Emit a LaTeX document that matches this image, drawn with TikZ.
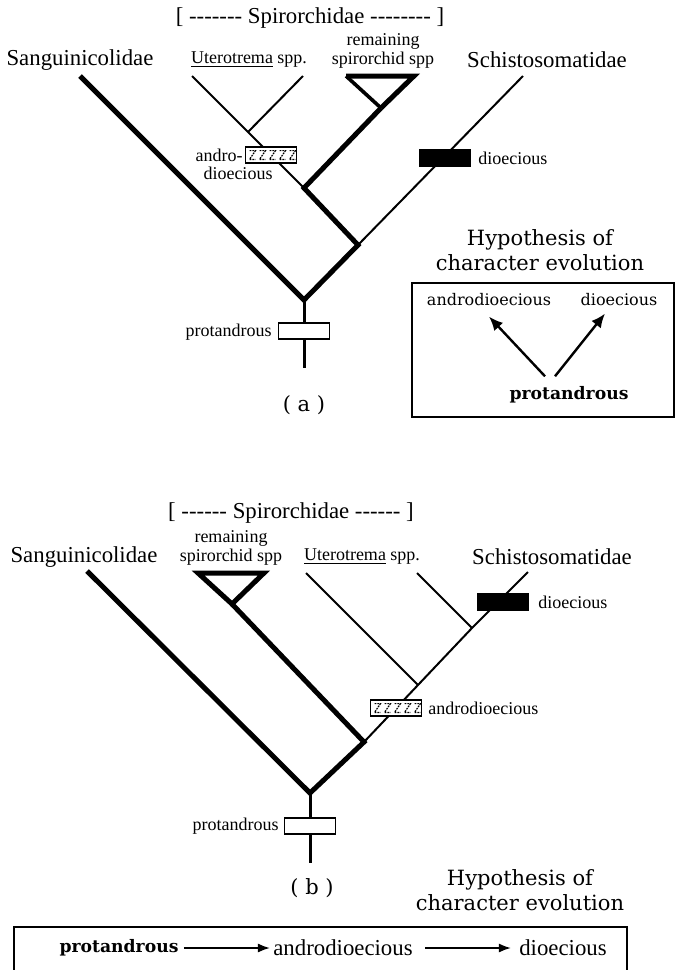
\documentclass[tikz,border=0pt]{standalone}
\usepackage{fontspec}
\setmainfont{Liberation Serif}
\newfontfamily\schfont{DejaVu Serif}
\usetikzlibrary{arrows.meta, calc}

% a run of plain hyphens (no en-dash ligature)
\newcommand{\dashrun}[1]{\foreach \d in {1,...,#1}{-\kern0pt}}

\tikzset{
  big/.style={font=\fontsize{11.4}{13}\selectfont, inner sep=0pt},
  small/.style={font=\fontsize{9}{9.5}\selectfont, inner sep=0pt},
  sch/.style={font=\schfont\fontsize{10.5}{12.5}\selectfont, inner sep=0pt, align=center},
  schsmall/.style={font=\schfont\fontsize{8}{10}\selectfont, inner sep=0pt},
  schbold/.style={font=\schfont\bfseries\fontsize{8.6}{10}\selectfont, inner sep=0pt},
  thickbr/.style={line width=2.5pt},
  thinbr/.style={line width=1pt},
  stembr/.style={line width=1.5pt},
  charbox/.style={draw, line width=0.6pt, fill=white, minimum width=25.5pt, minimum height=8pt, inner sep=0pt},
  blackbox/.style={charbox, fill=black},
  hatchbox/.style={charbox, path picture={
      \foreach \k in {0,...,4}
        \draw[line width=0.6pt, dash pattern=on 0.9pt off 0.5pt]
          ([xshift=\k*5pt+2pt, yshift=-1.8pt]path picture bounding box.north west)
          -- ++(3pt,0) -- ++(-3pt,-4.4pt) -- ++(3pt,0);
    }},
  evo/.style={-{Latex[length=7pt, width=6pt]}, line width=1.2pt},
  evoflat/.style={-{Latex[length=6pt, width=4.5pt]}, line width=0.8pt},
}

\begin{document}
\begin{tikzpicture}[x=0.5pt, y=-0.5pt]
\useasboundingbox (0,0) rectangle (678,970);

% ---------- (a) ----------
\coordinate (rootA) at (304,300);
\coordinate (nA1) at (358,245);
\coordinate (nA2) at (304,188);
\coordinate (nA3) at (248,132);
\coordinate (apexA) at (381,108);
\coordinate (triLA) at (346,76);
\coordinate (triRA) at (414,76);
\coordinate (tSangA) at (80,76);
\coordinate (tUt1A) at (192,76);
\coordinate (tUt2A) at (303,76);
\coordinate (tSchA) at (523,76);
\coordinate (stemA) at (304,368);

\draw[thickbr] (tSangA) -- (rootA) -- (nA1) -- (nA2) -- (apexA);
\draw[thickbr] (triLA) -- (triRA) -- (apexA);
\draw[line width=1.8pt] (apexA) -- (triLA);
\draw[thinbr] (nA1) -- (tSchA);
\draw[thinbr] (nA2) -- (tUt1A);
\draw[thinbr] (nA3) -- (tUt2A);
\draw[stembr] (rootA) -- (stemA);

\node[hatchbox] (hatA) at (271,155) {};
\node[blackbox] (blkA) at (445,158) {};
\node[charbox] (proA) at (304,331) {};

\node[small, anchor=east] (andA1) at (243,155) {andro-};
\node[small] (andA2) at (238,173) {dioecious};
\node[small, anchor=west] (dioA) at (478,158) {dioecious};
\node[small, anchor=east] (prolA) at (272,332) {protandrous};

\node[big] (spirA) at (310,18) {[ \dashrun{7} Spirorchidae \dashrun{8} ]};
\node[big] (sangA) at (80,60) {Sanguinicolidae};
\node[small] (uterA) at (249,60) {\underline{Uterotrema} spp.};
\node[small, align=center] (remA) at (383,51) {remaining\\spirorchid spp};
\node[big] (schA) at (547,60) {Schistosomatidae};

\node[sch] (labA) at (304,405) {( a )};

\node[sch] (hypA) at (540,250) {Hypothesis of\\character evolution};
\draw[line width=0.8pt] (412,283) rectangle (674,417);
\node[schsmall] (andA) at (489,300) {androdioecious};
\node[schsmall] (dioA2) at (619,300) {dioecious};
\node[schbold] (protA) at (569,395) {protandrous};
\draw[evo] ([xshift=-12pt, yshift=5pt]protA.north) -- ([yshift=-5pt]andA.south);
\draw[evo] ([xshift=-7pt, yshift=5pt]protA.north) -- ([xshift=-7pt, yshift=-3.5pt]dioA2.south);

% ---------- (b) ----------
\coordinate (rootB) at (310,793);
\coordinate (nB1) at (364,742);
\coordinate (nB2) at (418,685);
\coordinate (nB3) at (472,628);
\coordinate (apexB) at (232,604);
\coordinate (triLB) at (198,573);
\coordinate (triRB) at (264,573);
\coordinate (tSangB) at (87,571);
\coordinate (tUtB) at (306,573);
\coordinate (t4B) at (417,573);
\coordinate (tSchB) at (528,572);
\coordinate (stemB) at (310,863);

\draw[thickbr] (tSangB) -- (rootB) -- (nB1) -- (apexB);
\draw[thickbr] (triLB) -- (triRB) -- (apexB) -- cycle;
\draw[thinbr] (nB1) -- (nB2) -- (nB3) -- (tSchB);
\draw[thinbr] (nB2) -- (tUtB);
\draw[thinbr] (nB3) -- (t4B);
\draw[stembr] (rootB) -- (stemB);

\node[hatchbox] (hatB) at (396,708) {};
\node[blackbox] (blkB) at (503,602) {};
\node[charbox] (proB) at (310,826) {};

\node[small, anchor=west] (andlB) at (428,708) {androdioecious};
\node[small, anchor=west] (diolB) at (538,602) {dioecious};
\node[small, anchor=east] (prolB) at (279,826) {protandrous};

\node[big] (spirB) at (291,513) {[ \dashrun{6} Spirorchidae \dashrun{6} ]};
\node[big] (sangB) at (84,557) {Sanguinicolidae};
\node[small, align=center] (remB) at (231,548) {remaining\\spirorchid spp};
\node[small] (uterB) at (362,557) {\underline{Uterotrema} spp.};
\node[big] (schB) at (552,557) {Schistosomatidae};

\node[sch] (labB) at (312,888) {( b )};

\node[sch] (hypB) at (520,890) {Hypothesis of\\character evolution};
\draw[line width=0.8pt] (14,927) rectangle (627,985);
\node[schbold] (protB) at (119,948) {protandrous};
\node[big] (andB) at (343,948) {androdioecious};
\node[big] (dioB) at (563,948) {dioecious};
\draw[evoflat] ([xshift=2.5pt]protB.east) -- ([xshift=-1.5pt]andB.west);
\draw[evoflat] ([xshift=6pt]andB.east) -- ([xshift=-4pt]dioB.west);
\end{tikzpicture}
\end{document}
